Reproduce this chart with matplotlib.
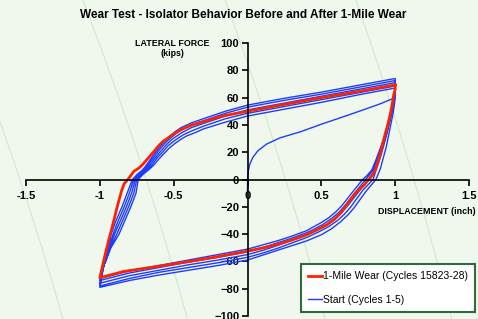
import matplotlib
matplotlib.use('Agg')
import matplotlib.pyplot as plt
from matplotlib.patches import Circle
import numpy as np

plt.rcParams['font.family'] = ['Liberation Sans', 'DejaVu Sans']

# ---- data (displacement in inch, lateral force in kips) ----
# 1-Mile Wear loop (cycles 15823-28)
wear_x = [1.0, 1.0, 0.99, 0.98, 0.968, 0.952, 0.934, 0.917, 0.90, 0.883, 0.865, 0.845, 0.82, 0.79, 0.76,
          0.73, 0.68, 0.63, 0.59, 0.54, 0.47, 0.40, 0.31, 0.22, 0.11, 0.0, -0.2, -0.39, -0.6, -0.84, -1.0,
          -0.985, -0.973, -0.955, -0.939, -0.922, -0.905, -0.887, -0.87, -0.852, -0.835, -0.81, -0.79,
          -0.77, -0.74, -0.71, -0.67, -0.63, -0.60, -0.565, -0.53, -0.49, -0.44, -0.375, -0.31, -0.17,
          0.0, 0.25, 0.5, 0.75, 1.0]
wear_y = [69.3, 66, 62, 55, 48.5, 41, 34, 26.5, 19, 12.5, 7, 3, 0, -4, -7,
          -10, -17.5, -24.7, -29, -33, -37, -40.5, -44, -47, -50, -52.5, -56.5, -60, -63.5, -67.4, -72,
          -65, -59, -51, -44, -37, -30, -22, -15, -8, -3, 0, 3,
          6, 8, 11, 16, 21, 25, 28.5, 31, 34, 37, 40, 42, 46.5,
          50, 55, 60, 64.5, 69.3]

# Start (cycles 1-5): initial loading curve
start_x = [0.0, 0.0, 0.005, 0.015, 0.035, 0.07, 0.13, 0.22, 0.36, 0.50, 0.65, 0.81, 0.90, 1.0]
start_y = [-8, 0, 6, 11, 16, 21, 26, 30.5, 35, 40.5, 46, 52, 55.5, 60]

# cycle 1
c1_down_x = [0.995, 0.985, 0.97, 0.955, 0.94, 0.92, 0.90, 0.885, 0.87, 0.835, 0.80, 0.76, 0.72, 0.68, 0.63,
             0.57, 0.50, 0.40, 0.30, 0.20, 0.10, 0.0, -0.2, -0.4, -0.6, -0.8, -1.0]
c1_down_y = [55, 48, 40, 32, 24, 16, 8, 4, 0, -4.5, -9, -15, -21, -26, -31,
             -36, -40.5, -45, -48.5, -52, -55.5, -59, -63, -66.5, -70, -74, -79]
c1_up_x = [-0.985, -0.968, -0.945, -0.923, -0.89, -0.85, -0.815, -0.78, -0.745, -0.71, -0.675, -0.64,
           -0.605, -0.57, -0.53, -0.49, -0.45, -0.38, -0.30, -0.15, 0.0, 0.25, 0.5, 0.75, 1.0]
c1_up_y = [-70, -60, -50, -40, -30, -20, -10, 0, 4, 7, 12, 17.5,
           22.5, 27, 31.5, 35, 38, 41.5, 44.5, 50, 54.5, 59.5, 64, 69, 74]
# cycle 2
c2_down_x = [1.0, 0.99, 0.978, 0.962, 0.945, 0.925, 0.905, 0.88, 0.865, 0.85, 0.815, 0.78, 0.74, 0.70, 0.66,
             0.61, 0.55, 0.48, 0.40, 0.30, 0.20, 0.10, 0.0, -0.2, -0.4, -0.6, -0.8, -1.0]
c2_down_y = [66, 58, 50, 42, 34, 26, 18, 10, 5, 0, -4, -8, -14, -20, -25,
             -30, -34.5, -38.5, -42.5, -46.5, -50.5, -54, -57, -61, -64.5, -68, -72.5, -78]
c2_up_x = [-0.985, -0.966, -0.94, -0.91, -0.875, -0.835, -0.80, -0.77, -0.735, -0.70, -0.665, -0.63,
           -0.595, -0.56, -0.52, -0.48, -0.45, -0.38, -0.30, -0.15, 0.0, 0.25, 0.5, 0.75, 1.0]
c2_up_y = [-69, -60, -50, -40, -30, -20, -10, 0, 4, 7, 12, 17,
           22, 26.5, 30.5, 34, 36.5, 40, 43, 48.5, 53, 58, 62.5, 67.5, 72.5]
# cycle 3
c3_down_x = [1.0, 0.99, 0.975, 0.958, 0.94, 0.918, 0.895, 0.87, 0.845, 0.82, 0.79, 0.76, 0.72, 0.68, 0.64,
             0.59, 0.53, 0.46, 0.40, 0.30, 0.20, 0.10, 0.0, -0.2, -0.4, -0.6, -0.8, -1.0]
c3_down_y = [65, 57, 49, 41, 33, 25, 17, 9, 4, 0, -4, -8, -13.5, -19, -24,
             -29, -33.5, -37.5, -40.5, -44.5, -48.5, -52, -55, -59, -62.5, -66.5, -70.5, -76]
c3_up_x = [-0.985, -0.965, -0.935, -0.90, -0.86, -0.82, -0.785, -0.76, -0.725, -0.69, -0.655, -0.62,
           -0.585, -0.55, -0.51, -0.47, -0.45, -0.38, -0.30, -0.15, 0.0, 0.25, 0.5, 0.75, 1.0]
c3_up_y = [-68, -60, -50, -40, -30, -20, -10, 0, 4, 7, 11.5, 16.5,
           21, 25.5, 29.5, 32.5, 34, 38, 41, 46.5, 51, 56, 61, 66, 71]
# cycle 4
c4_down_x = [1.0, 0.99, 0.972, 0.953, 0.932, 0.908, 0.882, 0.855, 0.83, 0.80, 0.77, 0.74, 0.70, 0.66, 0.62,
             0.57, 0.51, 0.45, 0.40, 0.30, 0.20, 0.10, 0.0, -0.2, -0.4, -0.6, -0.8, -1.0]
c4_down_y = [63, 56, 48, 40, 32, 24, 16, 8, 4, 0, -4, -8, -13.5, -19, -24,
             -28.5, -33, -36.5, -39, -43, -46.5, -50, -53, -57, -60.5, -64.5, -68.5, -74]
c4_up_x = [-0.985, -0.962, -0.93, -0.885, -0.845, -0.805, -0.77, -0.75, -0.715, -0.68, -0.645, -0.61,
           -0.575, -0.54, -0.50, -0.46, -0.43, -0.38, -0.30, -0.15, 0.0, 0.25, 0.5, 0.75, 1.0]
c4_up_y = [-66, -60, -50, -40, -30, -20, -10, 0, 4, 7, 11, 16,
           20, 24.5, 28, 31, 33, 35.5, 39, 44.5, 48.5, 53.5, 58.5, 63.5, 68.5]
# cycle 5
c5_down_x = [1.0, 0.99, 0.97, 0.95, 0.925, 0.90, 0.872, 0.842, 0.81, 0.78, 0.75, 0.72, 0.68, 0.64, 0.60,
             0.55, 0.50, 0.45, 0.40, 0.30, 0.20, 0.10, 0.0, -0.2, -0.4, -0.6, -0.8, -1.0]
c5_down_y = [62, 55, 47, 39, 31, 23, 15, 7, 3, 0, -4, -8, -13.5, -19, -23.5,
             -28, -31.5, -34.5, -37.5, -41.5, -45, -48, -51, -55, -59, -63, -67, -72.5]
c5_up_x = [-0.985, -0.96, -0.925, -0.87, -0.83, -0.79, -0.755, -0.74, -0.705, -0.67, -0.635, -0.60,
           -0.565, -0.53, -0.49, -0.45, -0.41, -0.35, -0.30, -0.15, 0.0, 0.25, 0.5, 0.75, 1.0]
c5_up_y = [-65, -60, -50, -40, -30, -20, -10, 0, 4, 7, 10.5, 15,
           19, 23, 26.5, 29.5, 32, 34.5, 37, 42, 46.5, 51.5, 56.5, 62, 67]

x_ticks = [-1.5, -1, -0.5, 0, 0.5, 1, 1.5]
x_labels = ['-1.5', '-1', '-0.5', '0', '0.5', '1', '1.5']
y_ticks = [-100, -80, -60, -40, -20, 0, 20, 40, 60, 80, 100]

start_path_x = np.concatenate([start_x, c1_down_x, c1_up_x, c2_down_x, c2_up_x, c3_down_x, c3_up_x,
                               c4_down_x, c4_up_x, c5_down_x, c5_up_x])
start_path_y = np.concatenate([start_y, c1_down_y, c1_up_y, c2_down_y, c2_up_y, c3_down_y, c3_up_y,
                               c4_down_y, c4_up_y, c5_down_y, c5_up_y])

W, H = 478, 319
bg_col = '#F0F8EE'
fig = plt.figure(figsize=(W / 100, H / 100), dpi=100, facecolor=bg_col)

# faint arcs in the background
bg = fig.add_axes([0, 0, 1, 1])
bg.set_xlim(0, W)
bg.set_ylim(H, 0)
bg.axis('off')
for r in [3132, 3252, 3385, 3508]:
    bg.add_patch(Circle((-2951, 1171), r, fill=False, ec='#D3E9C8', lw=0.8))

ax = fig.add_axes([26 / W, 3 / H, 443 / W, 273 / H])
ax.patch.set_alpha(0)
blue, = ax.plot(start_path_x, start_path_y, color='#1E3CFF', lw=1.0, label='Start (Cycles 1-5)')
red, = ax.plot(wear_x, wear_y, color='#FF2200', lw=2.0, label='1-Mile Wear (Cycles 15823-28)')

ax.set_xlim(-1.5, 1.5)
ax.set_ylim(-100, 100)
ax.spines['left'].set_position(('data', 0))
ax.spines['bottom'].set_position(('data', 0))
ax.spines['top'].set_visible(False)
ax.spines['right'].set_visible(False)
for s in ['left', 'bottom']:
    ax.spines[s].set_linewidth(1.2)
ax.set_xticks(x_ticks)
ax.set_xticklabels(x_labels)
ax.set_yticks(y_ticks)
ax.tick_params(axis='both', direction='out', length=4, width=1.2, labelsize=8)
ax.tick_params(axis='x', pad=4)
ax.tick_params(axis='y', pad=2)
for lab in ax.get_xticklabels() + ax.get_yticklabels():
    lab.set_fontweight('bold')

fig.text(243 / W, 1 - 15 / H, 'Wear Test - Isolator Behavior Before and After 1-Mile Wear',
         ha='center', va='center', fontsize=8.5, fontweight='bold')
fig.text(172 / W, 1 - 43 / H, 'LATERAL FORCE', ha='center', va='center', fontsize=6.4, fontweight='bold')
fig.text(172 / W, 1 - 54 / H, '(kips)', ha='center', va='center', fontsize=6.4, fontweight='bold')
fig.text(476 / W, 1 - 212 / H, 'DISPLACEMENT (inch)', ha='right', va='center', fontsize=6.4, fontweight='bold')

leg = ax.legend(handles=[red, blue], loc='center', bbox_to_anchor=(388 / W, 1 - 288 / H),
                bbox_transform=fig.transFigure, fontsize=7.5, frameon=True, fancybox=False,
                framealpha=1, facecolor='white', edgecolor='#2E6B3B', handlelength=1.35,
                handletextpad=0.05, labelspacing=1.3, borderpad=0.7, borderaxespad=0)
leg.get_frame().set_linewidth(1.5)
leg.get_lines()[0].set_linewidth(2.0)

fig.savefig('out.png', dpi=100, facecolor=bg_col)
